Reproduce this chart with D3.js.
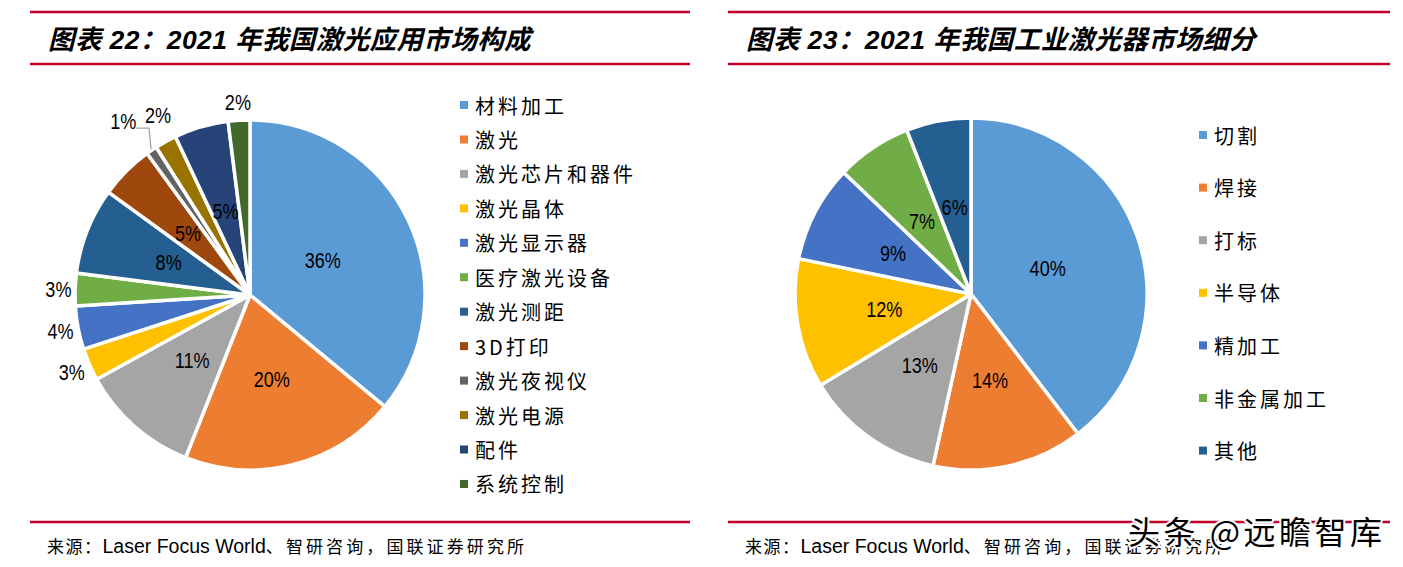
<!DOCTYPE html>
<html>
<head>
<meta charset="utf-8">
<script src="https://cdn.jsdelivr.net/npm/d3@7"></script>
<style>
  html, body { margin: 0; padding: 0; background: #fff; }
  svg { display: block; }
</style>
</head>
<body>
<svg id="chart" width="1403" height="567"></svg>
<script>
// ---------- DATA ----------
const leftTitle = "图表 22：2021 年我国激光应用市场构成";
const leftCategories = ["材料加工", "激光", "激光芯片和器件", "激光晶体", "激光显示器", "医疗激光设备",
  "激光测距", "3D打印", "激光夜视仪", "激光电源", "配件", "系统控制"];
const leftValues = [36, 20, 11, 3, 4, 3, 8, 5, 1, 2, 5, 2];

const rightTitle = "图表 23：2021 年我国工业激光器市场细分";
const rightCategories = ["切割", "焊接", "打标", "半导体", "精加工", "非金属加工", "其他"];
const rightValues = [40, 14, 13, 12, 9, 7, 6];

const sourceParts = ["来源：", "Laser Focus World", "、智研咨询，国联证券研究所"];
const watermark = "头条 @远瞻智库";

// ---------- STYLE ----------
const leftColors = ["#5B9BD5", "#ED7D31", "#A5A5A5", "#FFC000", "#4472C4", "#70AD47",
  "#255E91", "#9E480E", "#636363", "#997300", "#264478", "#43682B"];
const rightColors = ["#5B9BD5", "#ED7D31", "#A5A5A5", "#FFC000", "#4472C4", "#70AD47", "#255E91"];
const RED = "#C0002B";
const CJK = "'Noto Sans CJK SC', sans-serif";
const LAT = "'Liberation Sans', Arial, 'Noto Sans CJK SC', sans-serif";

const svg = d3.select("#chart");

function panel(opts) {
  const g = svg.append("g");
  const { x0, x1, title, cats, vals, colors, cx, cy, r, legendX, legendY0, legendStep, srcX } = opts;

  // red rules
  [12, 64, 522].forEach(y => {
    g.append("line").attr("x1", x0).attr("x2", x1).attr("y1", y).attr("y2", y)
      .attr("stroke", RED).attr("stroke-width", 2.5);
  });

  // title
  g.append("text").attr("x", x0 + 18).attr("y", 49)
    .attr("font-family", LAT).attr("font-size", 26.5).attr("font-weight", "bold")
    .attr("font-style", "italic").attr("letter-spacing", 0.4).attr("fill", "#000").text(title);

  // source
  const src = g.append("text").attr("x", srcX).attr("y", 553).attr("fill", "#000");
  src.append("tspan").attr("font-family", CJK).attr("font-size", 17).attr("letter-spacing", 1.5).text(sourceParts[0]);
  src.append("tspan").attr("font-family", LAT).attr("font-size", 19.5).text(sourceParts[1]);
  src.append("tspan").attr("font-family", CJK).attr("font-size", 17).attr("letter-spacing", 3.1).text(sourceParts[2]);

  // pie
  const pie = d3.pie().sort(null).value(d => d)(vals);
  const arc = d3.arc().innerRadius(0).outerRadius(r);
  const pg = g.append("g").attr("transform", `translate(${cx},${cy})`);
  pg.selectAll("path").data(pie).join("path")
    .attr("d", arc)
    .attr("fill", (d, i) => colors[i])
    .attr("stroke", "#fff").attr("stroke-width", 3.5).attr("stroke-linejoin", "round");

  // labels
  const labH = 18;
  const labels = pie.map((d, i) => {
    const a = (d.startAngle + d.endAngle) / 2;
    const sx = Math.sin(a), sy = -Math.cos(a);
    const txt = d.data + "%";
    const w = txt.length * 8.4;
    if (d.data >= 5) {
      const f = d.data >= 30 ? 0.46 : 0.5;
      return { i, txt, a, inside: true, x: sx * r * f, y: sy * r * f, w };
    }
    const off = r + 8 + (w / 2) * Math.abs(sx) + (labH / 2) * Math.abs(sy);
    return { i, txt, a, inside: false, x: sx * off, y: sy * off, w };
  });
  // simple collision resolution for outside labels
  const outs = labels.filter(l => !l.inside);
  for (let k = outs.length - 2; k >= 0; k--) {
    const A = outs[k], B = outs[k + 1];
    const ox = (A.w + B.w) / 2 - Math.abs(A.x - B.x);
    const oy = labH - Math.abs(A.y - B.y);
    if (ox > 0 && oy > 0) {
      B.y -= 9; B.x += 2;
      A.x = B.x - (A.w + B.w) / 2 - 18;
      A.y = B.y + 6;
      A.moved = true;
    }
  }
  labels.forEach(l => {
    if (l.moved) {
      const ex = Math.sin(l.a) * (r + 1), ey = -Math.cos(l.a) * (r + 1);
      const ly = l.y + 7;
      pg.append("polyline")
        .attr("points", `${ex},${ey} ${ex - 2},${ly} ${l.x + l.w / 2 + 4},${ly}`)
        .attr("fill", "none").attr("stroke", "#A6A6A6").attr("stroke-width", 1.3);
    }
    pg.append("text")
      .attr("transform", `translate(${l.x},${l.y}) scale(0.84,1)`)
      .attr("text-anchor", "middle").attr("dominant-baseline", "central")
      .attr("font-family", LAT).attr("font-size", 21.5).attr("fill", "#000")
      .text(l.txt);
  });

  // legend
  const lg = g.append("g");
  cats.forEach((c, i) => {
    const y = legendY0 + i * legendStep;
    lg.append("rect").attr("x", legendX).attr("y", y - 4).attr("width", 8).attr("height", 8)
      .attr("fill", colors[i]);
    lg.append("text").attr("x", legendX + 15).attr("y", y)
      .attr("dominant-baseline", "central")
      .attr("font-family", CJK).attr("font-size", 20).attr("letter-spacing", 3)
      .attr("fill", "#000").text(c);
  });
}

panel({ x0: 30, x1: 690, title: leftTitle, cats: leftCategories, vals: leftValues, colors: leftColors,
  cx: 250, cy: 295, r: 175, legendX: 460, legendY0: 105, legendStep: 34.45, srcX: 47 });
panel({ x0: 728, x1: 1390, title: rightTitle, cats: rightCategories, vals: rightValues, colors: rightColors,
  cx: 971, cy: 294, r: 176, legendX: 1199, legendY0: 135, legendStep: 52.6, srcX: 745 });

// watermark
svg.append("text").attr("x", 1128).attr("y", 544)
  .attr("font-family", CJK).attr("font-size", 32).attr("letter-spacing", 3.5)
  .attr("fill", "#000").attr("stroke", "#fff").attr("stroke-width", 4)
  .attr("paint-order", "stroke").attr("stroke-linejoin", "round")
  .text(watermark);
</script>
</body>
</html>
